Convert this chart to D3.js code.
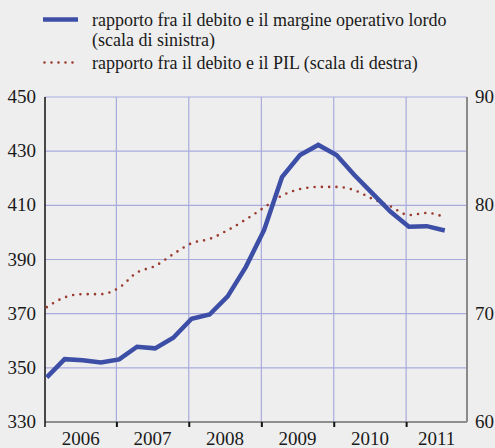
<!DOCTYPE html>
<html>
<head>
<meta charset="utf-8">
<script src="https://cdn.jsdelivr.net/npm/d3@7"></script>
</head>
<body style="margin:0">
<script>
// quarterly observations, 2006 Q1 - 2011 Q3
var periods = ['2006-01-15', '2006-04-15', '2006-07-15', '2006-10-15',
               '2007-01-15', '2007-04-15', '2007-07-15', '2007-10-15',
               '2008-01-15', '2008-04-15', '2008-07-15', '2008-10-15',
               '2009-01-15', '2009-04-15', '2009-07-15', '2009-10-15',
               '2010-01-15', '2010-04-15', '2010-07-15', '2010-10-15',
               '2011-01-15', '2011-04-15', '2011-07-15'];

// debt / gross operating profit (left scale)
var debitoMol = [346.5, 353.2, 352.8, 352.0, 353.1, 357.8, 357.2, 361.1,
                 368.1, 369.7, 376.4, 387.3, 400.9, 420.4, 428.6, 432.3,
                 428.6, 421.2, 414.4, 407.6, 402.1, 402.3, 400.7];

// debt / GDP (right scale)
var debitoPil = [70.6, 71.5, 71.8, 71.8, 72.4, 73.8, 74.4, 75.5,
                 76.5, 76.9, 77.7, 78.7, 79.8, 80.9, 81.5, 81.7,
                 81.7, 81.4, 80.6, 79.9, 79.1, 79.3, 78.9];

var years = [2006, 2007, 2008, 2009, 2010, 2011];
var leftTicks = [330, 350, 370, 390, 410, 430, 450];
var rightTicks = [60, 70, 80, 90];

var legendLines = [
    'rapporto fra il debito e il margine operativo lordo',
    '(scala di sinistra)',
    'rapporto fra il debito e il PIL (scala di destra)'
];

var width = 495, height = 448;
var margin = { top: 97, right: 28, bottom: 26, left: 45 };
var innerW = width - margin.left - margin.right;
var innerH = height - margin.top - margin.bottom;
var serif = "'Liberation Serif', Tinos, 'Times New Roman'";

var parse = d3.timeParse('%Y-%m-%d');
var dates = periods.map(parse);

var x = d3.scaleTime()
    .domain([new Date(2006, 0, 6), new Date(2011, 10, 4)])
    .range([0, innerW]);
var yL = d3.scaleLinear().domain([330, 450]).range([innerH, 0]);
var yR = d3.scaleLinear().domain([60, 90]).range([innerH, 0]);

var svg = d3.select('body').append('svg')
    .attr('width', width)
    .attr('height', height);

svg.append('rect').attr('width', width).attr('height', height).attr('fill', '#eeeeee');

/* legend */
var legend = svg.append('g').attr('transform', 'translate(43,0)');
legend.append('line')
    .attr('x1', 0).attr('x2', 35).attr('y1', 19.5).attr('y2', 19.5)
    .attr('stroke', '#3c4ea6').attr('stroke-width', 4.5);
legend.append('line')
    .attr('x1', 1.5).attr('x2', 35).attr('y1', 62.5).attr('y2', 62.5)
    .attr('stroke', '#9b3a2f').attr('stroke-width', 2.6)
    .attr('stroke-linecap', 'round')
    .attr('stroke-dasharray', '0,7');
legend.selectAll('.lt')
    .data(legendLines)
    .enter().append('text')
    .attr('class', 'lbl')
    .attr('x', 49)
    .attr('y', function(d, i) { return [26, 46, 69][i]; })
    .attr('font-size', 18)
    .text(function(d) { return d; });

var g = svg.append('g').attr('transform', 'translate(' + margin.left + ',' + margin.top + ')');

/* grid */
g.selectAll('.hgrid')
    .data(leftTicks.filter(function(d) { return d > 330; }))
    .enter().append('line')
    .attr('x1', 0).attr('x2', innerW)
    .attr('y1', function(d) { return yL(d); })
    .attr('y2', function(d) { return yL(d); })
    .attr('stroke', '#a9abdd').attr('stroke-width', 1.2);

g.selectAll('.vgrid')
    .data(years.slice(1))
    .enter().append('line')
    .attr('x1', function(d) { return x(new Date(d, 0, 1)); })
    .attr('x2', function(d) { return x(new Date(d, 0, 1)); })
    .attr('y1', 0).attr('y2', innerH)
    .attr('stroke', '#a9abdd').attr('stroke-width', 1.2);

/* axes lines */
g.append('line').attr('x1', 0).attr('x2', innerW).attr('y1', innerH).attr('y2', innerH)
    .attr('stroke', '#6e6e6e').attr('stroke-width', 1.5);
g.append('line').attr('x1', innerW).attr('x2', innerW).attr('y1', 0).attr('y2', innerH)
    .attr('stroke', '#8a8a8a').attr('stroke-width', 2);
g.append('line').attr('x1', 0).attr('x2', 0).attr('y1', 0).attr('y2', innerH + 5)
    .attr('stroke', '#111').attr('stroke-width', 1.5);

g.selectAll('.xtick')
    .data(years.slice(1))
    .enter().append('line')
    .attr('x1', function(d) { return x(new Date(d, 0, 1)) + 0.5; })
    .attr('x2', function(d) { return x(new Date(d, 0, 1)) + 0.5; })
    .attr('y1', innerH).attr('y2', innerH + 5)
    .attr('stroke', '#111').attr('stroke-width', 2);

/* tick labels */
g.selectAll('.yl')
    .data(leftTicks)
    .enter().append('text')
    .attr('class', 'lbl')
    .attr('x', -9)
    .attr('y', function(d) { return yL(d) + 6; })
    .attr('text-anchor', 'end')
    .attr('font-size', 19)
    .text(function(d) { return d; });

g.selectAll('.yr')
    .data(rightTicks)
    .enter().append('text')
    .attr('class', 'lbl')
    .attr('x', innerW + 8)
    .attr('y', function(d) { return yR(d) + 6; })
    .attr('font-size', 19)
    .text(function(d) { return d; });

g.selectAll('.yx')
    .data(years)
    .enter().append('text')
    .attr('class', 'lbl')
    .attr('x', function(d) {
        var a = Math.max(0, x(new Date(d, 0, 1)));
        var b = Math.min(innerW, x(new Date(d + 1, 0, 1)));
        return (a + b) / 2;
    })
    .attr('y', innerH + 23)
    .attr('text-anchor', 'middle')
    .attr('font-size', 19)
    .text(function(d) { return d; });

svg.selectAll('text.lbl')
    .style('font-family', serif)
    .attr('fill', '#1a1a1a');

/* series */
var lineL = d3.line()
    .x(function(d, i) { return x(dates[i]); })
    .y(function(d) { return yL(d); });
var lineR = d3.line()
    .curve(d3.curveMonotoneX)
    .x(function(d, i) { return x(dates[i]); })
    .y(function(d) { return yR(d); });

g.append('path')
    .datum(debitoPil)
    .attr('d', lineR)
    .attr('fill', 'none')
    .attr('stroke', '#9b3a2f')
    .attr('stroke-width', 2.6)
    .attr('stroke-linecap', 'round')
    .attr('stroke-dasharray', '0,7.3');

g.append('path')
    .datum(debitoMol)
    .attr('d', lineL)
    .attr('fill', 'none')
    .attr('stroke', '#3c4ea6')
    .attr('stroke-width', 4.5)
    .attr('stroke-linejoin', 'miter');
</script>
</body>
</html>
